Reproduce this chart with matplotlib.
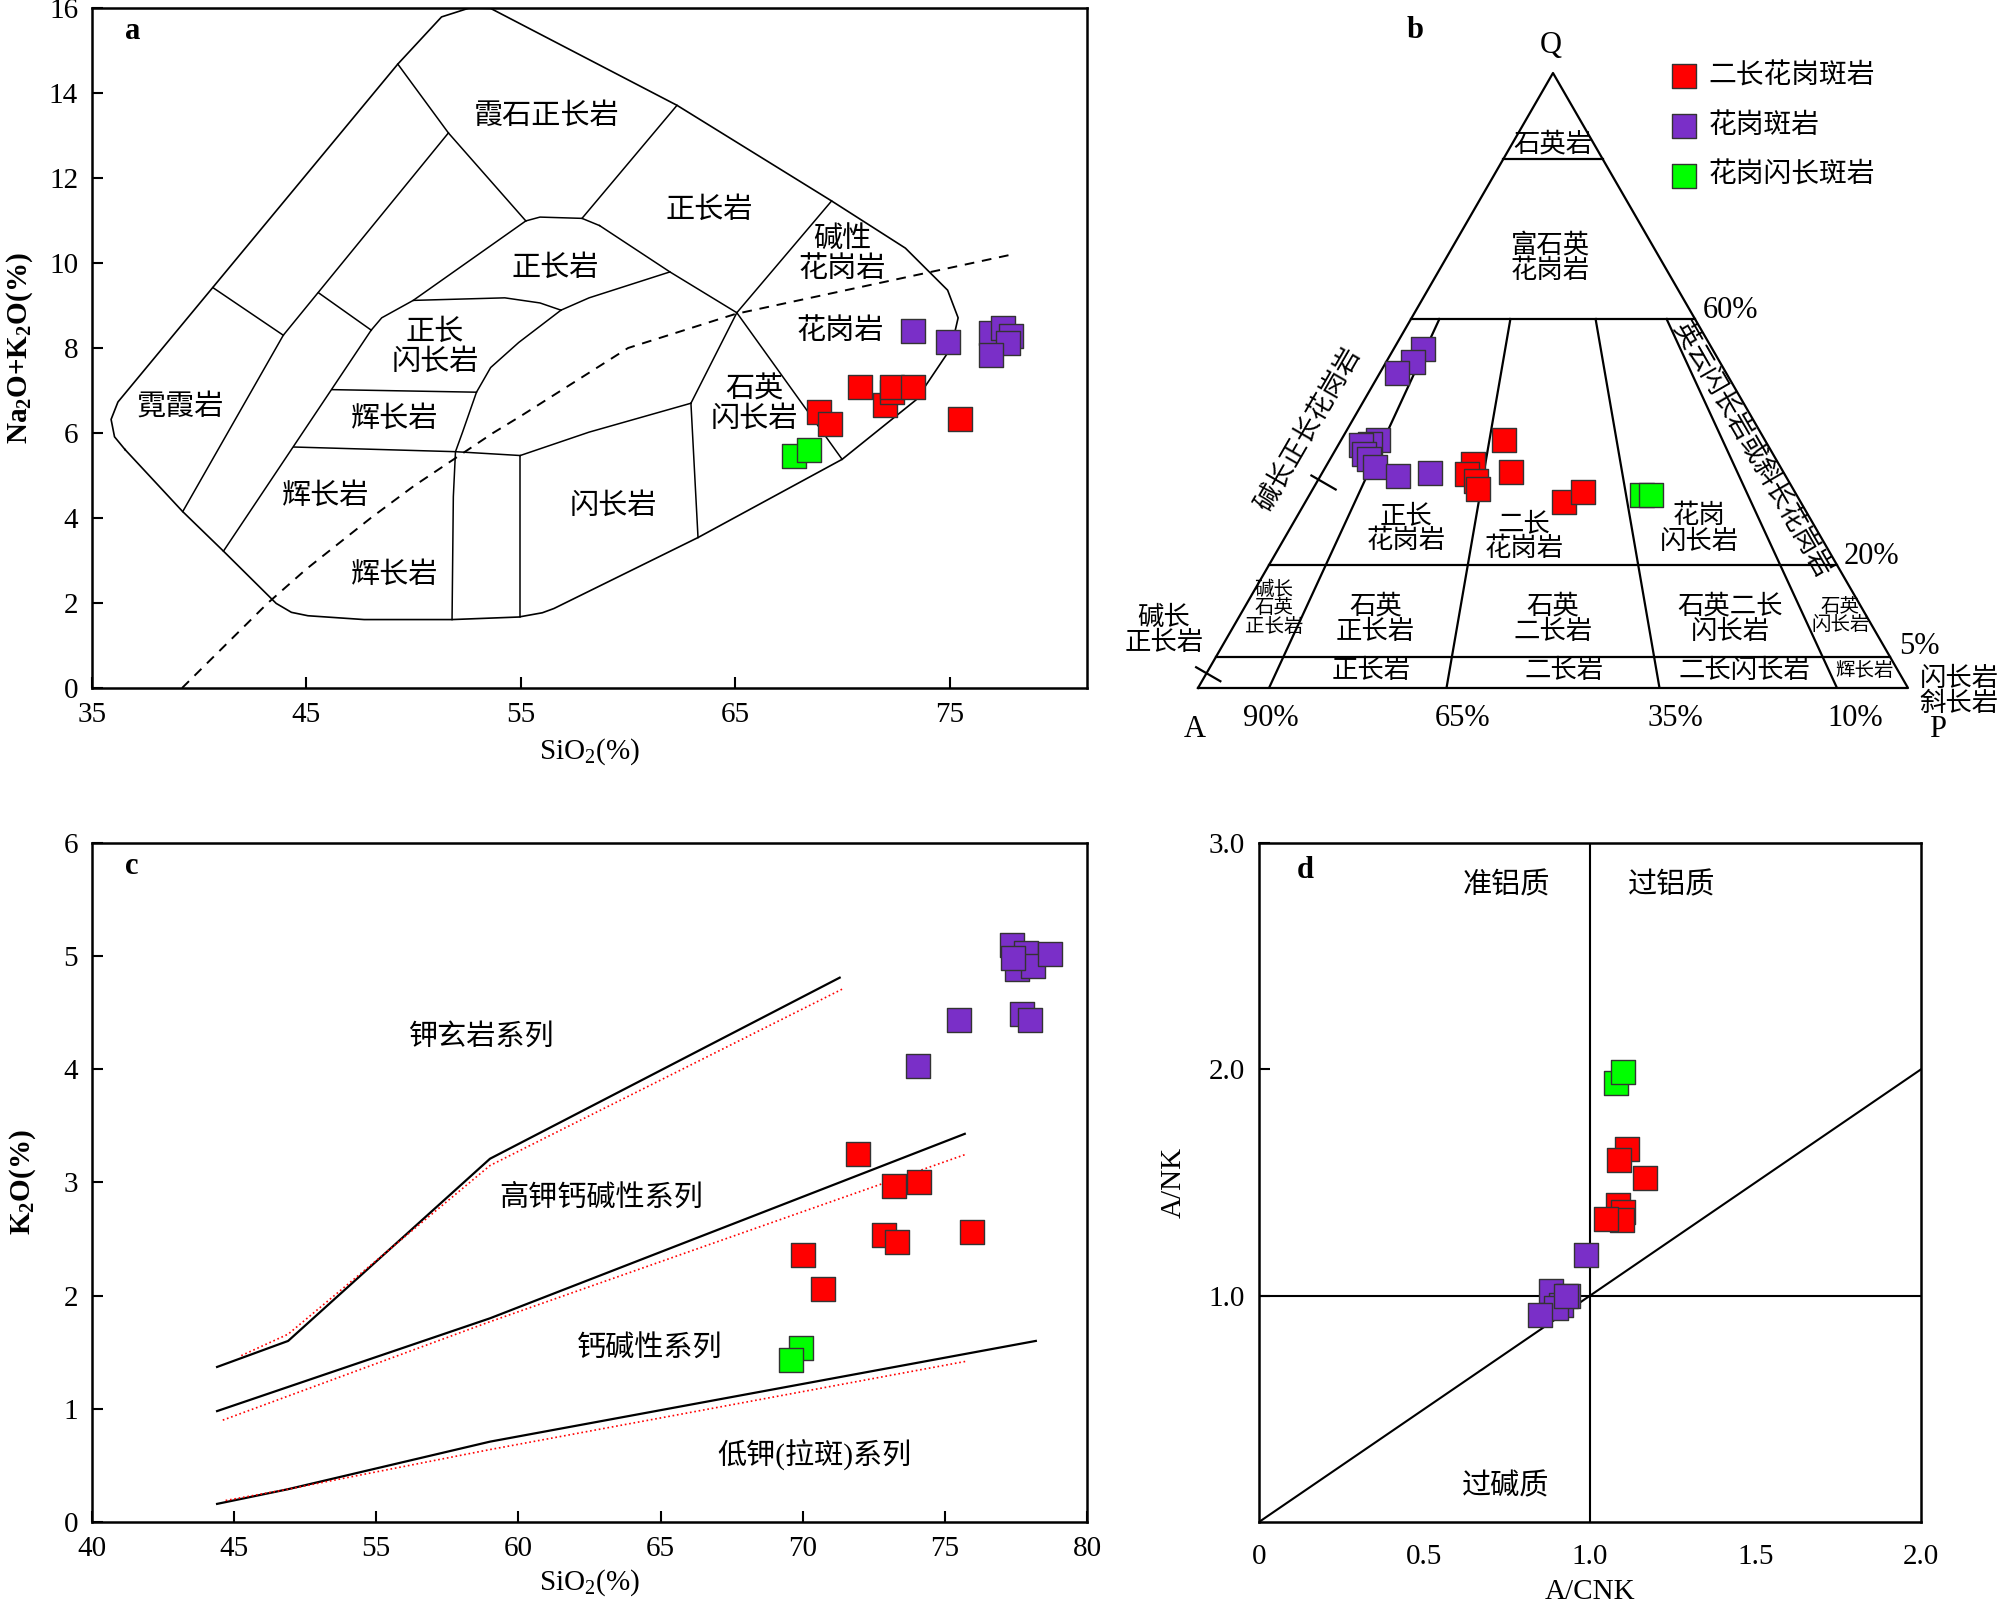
import numpy as np
import matplotlib
matplotlib.use("Agg")
import matplotlib.pyplot as plt

plt.rcParams['font.family'] = ['Liberation Serif', 'Noto Sans CJK SC']
plt.rcParams['mathtext.fontset'] = 'custom'
plt.rcParams['mathtext.rm'] = 'Liberation Serif'
plt.rcParams['mathtext.default'] = 'regular'

# --------------------------------------------------------------------------- #
SERIES = ["二长花岗斑岩", "花岗斑岩", "花岗闪长斑岩"]
COLORS = ["#FF0000", "#7A2FC8", "#00FF00"]

# a: TAS (SiO2 vs Na2O+K2O)
A_RED_SIO2 = [68.9, 69.4, 70.8, 72.0, 72.3, 72.3, 73.3, 75.5]
A_RED_ALK = [6.49, 6.20, 7.08, 6.67, 6.96, 7.08, 7.08, 6.32]
A_PUR_SIO2 = [73.3, 74.9, 76.9, 77.5, 77.85, 77.7, 76.9]
A_PUR_ALK = [8.39, 8.13, 8.36, 8.46, 8.28, 8.11, 7.84]
A_GRN_SIO2 = [67.75, 68.45]
A_GRN_ALK = [5.46, 5.59]

# TAS field boundaries (SiO2, alk)
TAS_OUTER = [(36.54, 5.61), (39.23, 4.15), (41.13, 3.22), (43.59, 1.99), (44.3, 1.78),
             (45.07, 1.70), (47.69, 1.61), (51.79, 1.61), (54.90, 1.67), (56.0, 1.77),
             (56.54, 1.87), (63.26, 3.54), (69.98, 5.38), (73.43, 6.78), (75.07, 8.01),
             (75.39, 8.71), (74.90, 9.36), (72.93, 10.35), (69.49, 11.46), (62.28, 13.71),
             (53.59, 15.99), (52.6, 16.0), (51.30, 15.79), (49.26, 14.68), (36.21, 6.73),
             (35.89, 6.32), (36.05, 5.91), (36.54, 5.61)]
TAS_LINES = [
    [(51.62, 13.06), (43.92, 8.30), (39.23, 4.15)],
    [(49.26, 14.68), (51.62, 13.06), (55.23, 10.99)],
    [(40.64, 9.42), (43.92, 8.30)],
    [(45.56, 9.30), (48.02, 8.42)],
    [(48.02, 8.42), (41.13, 3.22)],
    [(48.02, 8.42), (48.51, 8.71), (49.98, 9.12), (54.25, 9.18), (55.89, 9.06), (56.87, 8.89)],
    [(49.98, 9.12), (55.23, 10.99)],
    [(55.23, 10.99), (55.89, 11.08), (57.85, 11.05), (58.67, 10.88)],
    [(58.67, 10.88), (61.95, 9.79), (65.07, 8.83)],
    [(57.85, 11.05), (62.28, 13.71)],
    [(61.95, 9.79), (58.18, 9.18), (56.87, 8.89)],
    [(56.87, 8.89), (54.90, 8.13), (53.59, 7.54), (52.93, 6.96), (52.28, 6.02), (51.95, 5.56),
     (51.85, 4.50), (51.79, 1.61)],
    [(46.21, 7.02), (52.93, 6.96)],
    [(44.41, 5.67), (51.95, 5.56), (54.97, 5.47)],
    [(54.97, 5.47), (58.18, 6.02), (62.93, 6.70)],
    [(54.97, 5.47), (54.97, 1.67)],
    [(62.93, 6.70), (63.26, 3.54)],
    [(62.93, 6.70), (65.07, 8.83)],
    [(65.07, 8.83), (69.98, 5.38)],
    [(65.07, 8.83), (69.49, 11.46)],
]
IB_SIO2 = [39.2, 40.0, 43.2, 45.0, 48.0, 50.0, 53.7, 55.0, 60.0, 65.0, 77.9]
IB_ALK = [0.0, 0.4, 2.0, 2.8, 4.0, 4.75, 6.0, 6.4, 8.0, 8.8, 10.2]
TAS_NAMES = ["霞石正长岩", "正长岩", "正长岩", "碱性\n花岗岩", "花岗岩", "正长\n闪长岩",
             "石英\n闪长岩", "霓霞岩", "辉长岩", "辉长岩", "闪长岩", "辉长岩"]
TAS_NAME_X = [56.2, 63.8, 56.6, 70.0, 69.9, 51.0, 65.9, 39.1, 49.1, 45.9, 59.3, 49.1]
TAS_NAME_Y = [13.45, 11.23, 9.88, 10.2, 8.39, 8.0, 6.67, 6.61, 6.32, 4.50, 4.27, 2.65]

# b: QAP
B_RED_Q = [0.404, 0.352, 0.364, 0.348, 0.336, 0.323, 0.302, 0.319]
B_RED_PAP = [0.385, 0.409, 0.323, 0.315, 0.336, 0.343, 0.523, 0.562]
B_PUR_Q = [0.552, 0.530, 0.512, 0.403, 0.396, 0.395, 0.380, 0.372, 0.360, 0.345, 0.350]
B_PUR_PAP = [0.090, 0.080, 0.049, 0.088, 0.073, 0.054, 0.071, 0.087, 0.109, 0.167, 0.234]
B_GRN_Q = [0.314, 0.314]
B_GRN_PAP = [0.682, 0.702]
Q_LEVELS = [0.05, 0.20, 0.60, 0.86]
PAP_LEVELS = [0.10, 0.35, 0.65, 0.90]

# c: SiO2 vs K2O
C_RED_SIO2 = [71.95, 73.2, 74.1, 72.85, 73.3, 75.95, 70.0, 70.7]
C_RED_K2O = [3.25, 2.97, 3.00, 2.54, 2.47, 2.56, 2.36, 2.06]
C_PUR_SIO2 = [77.35, 77.85, 77.55, 78.1, 78.7, 77.4, 77.7, 78.0, 75.5, 74.05]
C_PUR_K2O = [5.10, 5.03, 4.89, 4.91, 5.02, 4.98, 4.49, 4.44, 4.44, 4.03]
C_GRN_SIO2 = [69.95, 69.6]
C_GRN_K2O = [1.54, 1.43]
C_XTICKS = [45, 50, 55, 60, 65, 70, 75, 80]
C_XTICKLABELS = ["40", "45", "55", "60", "65", "70", "75", "80"]
SHO_X, SHO_Y = [49.4, 51.9, 59.0, 71.3], [1.37, 1.60, 3.21, 4.81]
HK_X, HK_Y = [49.4, 59.0, 75.7], [0.98, 1.80, 3.43]
LK_X, LK_Y = [49.4, 51.9, 59.0, 78.2], [0.16, 0.29, 0.71, 1.60]
SHO_RX, SHO_RY = [50.25, 51.9, 59.0, 71.4], [1.47, 1.66, 3.15, 4.71]
HK_RX, HK_RY = [49.6, 59.0, 75.75], [0.90, 1.77, 3.25]
LK_RX, LK_RY = [49.7, 51.9, 59.0, 75.75], [0.19, 0.29, 0.64, 1.42]

# d: A/CNK vs A/NK
D_RED_ACNK = [1.112, 1.088, 1.166, 1.086, 1.100, 1.097, 1.048]
D_RED_ANK = [1.65, 1.60, 1.52, 1.40, 1.37, 1.335, 1.34]
D_PUR_ACNK = [0.989, 0.883, 0.932, 0.913, 0.897, 0.848, 0.926]
D_PUR_ANK = [1.18, 1.02, 1.00, 0.96, 0.945, 0.914, 1.00]
D_GRN_ACNK = [1.079, 1.100]
D_GRN_ANK = [1.94, 1.99]

# --------------------------------------------------------------------------- #
MS = 300
EC = "#333333"
TICK_FS = 21
CN_FS = 21


def pts(ax, xs, ys, c, **kw):
    ax.scatter(xs, ys, s=MS, marker="s", c=c, edgecolors=EC, linewidths=1.0, zorder=5, **kw)


def style(ax):
    for sp in ax.spines.values():
        sp.set_linewidth(1.8)
    ax.tick_params(direction="in", length=8, width=1.5, labelsize=TICK_FS, pad=10)


fig = plt.figure(figsize=(19.97, 16.11), dpi=100)

# ---- a ----
ax = fig.add_axes([0.04607, 0.57294, 0.49825, 0.42210])
ax.plot(*zip(*TAS_OUTER), color="k", lw=1.2)
for seg in TAS_LINES:
    ax.plot(*zip(*seg), color="k", lw=1.1)
ax.plot(IB_SIO2, IB_ALK, color="k", lw=1.4, ls=(0, (5, 4)))
for s, x, y in zip(TAS_NAMES, TAS_NAME_X, TAS_NAME_Y):
    ax.text(x, y, s, fontsize=CN_FS, ha="center", va="center", linespacing=1.15)
for xs, ys, c in [(A_RED_SIO2, A_RED_ALK, COLORS[0]), (A_PUR_SIO2, A_PUR_ALK, COLORS[1]),
                  (A_GRN_SIO2, A_GRN_ALK, COLORS[2])]:
    pts(ax, xs, ys, c)
ax.set_xlim(35, 81.4); ax.set_ylim(0, 16)
ax.set_xticks([35, 45, 55, 65, 75]); ax.set_yticks(range(0, 17, 2))
style(ax)
ax.set_xlabel("SiO$_2$(%)", fontsize=TICK_FS, labelpad=6)
ax.set_ylabel("Na$_2$O+K$_2$O(%)", fontsize=TICK_FS, fontweight="bold", labelpad=10)
ax.text(0.033, 0.965, "a", transform=ax.transAxes, fontsize=22, fontweight="bold", va="center")

# ---- b ----
axb = fig.add_axes([0.59990, 0.57294, 0.35553, 0.38175])
axb.set_xlim(0, 1); axb.set_ylim(0, 1); axb.axis("off")


def tern(q, r):
    q = np.asarray(q, float); r = np.asarray(r, float)
    return 0.5 * q + (1 - q) * r, q


LW_B = 1.6
axb.plot([0, 1, 0.5, 0], [0, 0, 1, 0], color="k", lw=LW_B, clip_on=False)
for q in Q_LEVELS:
    x, y = tern([q, q], [0, 1]); axb.plot(x, y, color="k", lw=LW_B)
for r in PAP_LEVELS:
    x, y = tern([0, 0.6], [r, r]); axb.plot(x, y, color="k", lw=LW_B)
# pointer ticks on the A-Q edge
for q, lo, hi in [(0.024, -12, 16), (0.339, -8, 20)]:
    x0, y0 = tern(q, 0)
    dx, dy = 0.866 / 710, -0.5 / 615
    axb.plot([x0 + lo * dx, x0 + hi * dx], [y0 + lo * dy, y0 + hi * dy], color="k", lw=LW_B, clip_on=False)

for q, r, c in [(B_RED_Q, B_RED_PAP, COLORS[0]), (B_PUR_Q, B_PUR_PAP, COLORS[1]),
                (B_GRN_Q, B_GRN_PAP, COLORS[2])]:
    x, y = tern(q, r); pts(axb, x, y, c, clip_on=False)

B_FS = 19
S_FS = 14
for s, u, v, fs, rot in [
    ("石英岩", 0.500, 0.885, B_FS, 0), ("富石英\n花岗岩", 0.496, 0.699, B_FS, 0),
    ("碱长正长花岗岩", 0.156, 0.420, B_FS, 60), ("英云闪长岩或斜长花岗岩", 0.780, 0.388, B_FS, -60),
    ("正长\n花岗岩", 0.293, 0.259, B_FS, 0), ("二长\n花岗岩", 0.459, 0.246, B_FS, 0),
    ("花岗\n闪长岩", 0.706, 0.259, B_FS, 0), ("碱长\n石英\n正长岩", 0.107, 0.130, S_FS, 0),
    ("石英\n正长岩", 0.250, 0.112, B_FS, 0), ("石英\n二长岩", 0.500, 0.112, B_FS, 0),
    ("石英二长\n闪长岩", 0.750, 0.112, B_FS, 0), ("石英\n闪长岩", 0.905, 0.117, S_FS, 0),
    ("正长岩", 0.244, 0.028, B_FS, 0), ("二长岩", 0.516, 0.028, B_FS, 0),
    ("二长闪长岩", 0.770, 0.028, B_FS, 0), ("辉长岩", 0.939, 0.028, S_FS, 0),
    ("碱长\n正长岩", -0.048, 0.093, B_FS, 0), ("闪长岩\n斜长岩", 1.072, -0.005, B_FS, 0),
]:
    axb.text(u, v, s, fontsize=fs, rotation=rot, ha="center", va="center", linespacing=1.05,
             rotation_mode="anchor")
for s, u, v in [("Q", 0.497, 1.045), ("A", -0.004, -0.068), ("P", 1.042, -0.068),
                ("90%", 0.103, -0.049), ("65%", 0.373, -0.049), ("35%", 0.673, -0.049),
                ("10%", 0.925, -0.049), ("60%", 0.750, 0.614), ("20%", 0.948, 0.214),
                ("5%", 1.016, 0.068)]:
    axb.text(u, v, s, fontsize=22, ha="center", va="center")
axb.text(0.305, 1.069, "b", fontsize=22, fontweight="bold", ha="center", va="center")
# legend
for i, (name, c) in enumerate(zip(SERIES, COLORS)):
    v = 0.995 - 0.081 * i
    axb.scatter([0.685], [v], s=MS, marker="s", c=c, edgecolors=EC, linewidths=1.0, clip_on=False)
    axb.text(0.719, v, name, fontsize=20, va="center", ha="left")

# ---- c ----
ax = fig.add_axes([0.04607, 0.05525, 0.49825, 0.42148])
for xs, ys in [(SHO_X, SHO_Y), (HK_X, HK_Y), (LK_X, LK_Y)]:
    ax.plot(xs, ys, color="k", lw=1.6)
for xs, ys in [(SHO_RX, SHO_RY), (HK_RX, HK_RY), (LK_RX, LK_RY)]:
    ax.plot(xs, ys, color="red", lw=1.2, ls=":")
for s, x, y in [("钾玄岩系列", 58.7, 4.28), ("高钾钙碱性系列", 62.9, 2.86),
                ("钙碱性系列", 64.6, 1.53), ("低钾(拉斑)系列", 70.4, 0.59)]:
    ax.text(x, y, s, fontsize=CN_FS, ha="center", va="center")
for xs, ys, c in [(C_RED_SIO2, C_RED_K2O, COLORS[0]), (C_PUR_SIO2, C_PUR_K2O, COLORS[1]),
                  (C_GRN_SIO2, C_GRN_K2O, COLORS[2])]:
    pts(ax, xs, ys, c)
ax.set_xlim(45, 80); ax.set_ylim(0, 6)
ax.set_xticks(C_XTICKS); ax.set_xticklabels(C_XTICKLABELS)
ax.set_yticks(range(0, 7))
style(ax)
ax.set_xlabel("SiO$_2$(%)", fontsize=TICK_FS, labelpad=4)
ax.set_ylabel("K$_2$O(%)", fontsize=TICK_FS, fontweight="bold", labelpad=18)
ax.text(0.033, 0.965, "c", transform=ax.transAxes, fontsize=22, fontweight="bold", va="center")

# ---- d ----
ax = fig.add_axes([0.63045, 0.05525, 0.33150, 0.42148])
ax.axhline(1.0, color="k", lw=1.5)
ax.axvline(1.0, color="k", lw=1.5)
ax.plot([0, 2], [0, 2], color="k", lw=1.5)
for s, x, y in [("准铝质", 0.746, 2.81), ("过铝质", 1.247, 2.81), ("过碱质", 0.746, 0.158)]:
    ax.text(x, y, s, fontsize=CN_FS, ha="center", va="center")
for xs, ys, c in [(D_RED_ACNK, D_RED_ANK, COLORS[0]), (D_PUR_ACNK, D_PUR_ANK, COLORS[1]),
                  (D_GRN_ACNK, D_GRN_ANK, COLORS[2])]:
    pts(ax, xs, ys, c)
ax.set_xlim(0, 2); ax.set_ylim(0, 3)
ax.set_xticks([0, 0.5, 1.0, 1.5, 2.0]); ax.set_xticklabels(["0", "0.5", "1.0", "1.5", "2.0"])
ax.set_yticks([1.0, 2.0, 3.0]); ax.set_yticklabels(["1.0", "2.0", "3.0"])
style(ax)
ax.tick_params(axis="x", length=0, pad=16)
ax.set_xlabel("A/CNK", fontsize=TICK_FS, labelpad=6)
ax.set_ylabel("A/NK", fontsize=TICK_FS, labelpad=16)
ax.text(0.057, 0.96, "d", transform=ax.transAxes, fontsize=22, fontweight="bold", va="center")

fig.savefig("out.png", dpi=100)
